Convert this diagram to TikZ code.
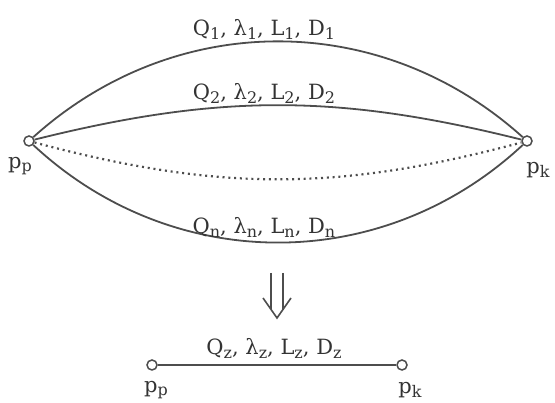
\documentclass[tikz,border=0pt]{standalone}
\usepackage{fontspec}
\setmainfont{DejaVu Serif}
\usetikzlibrary{positioning,arrows.meta}
\definecolor{linegray}{HTML}{4D4D4D}
\definecolor{textgray}{HTML}{333333}
\newcommand{\sbs}[1]{\raisebox{-0.35ex}{\fontsize{16}{18}\selectfont #1}}

\begin{document}
\begin{tikzpicture}[x=1pt,y=-1pt,
  font=\fontsize{21}{25}\selectfont,text=textgray,
  pnt/.style={circle,draw=linegray,line width=1.5pt,fill=white,minimum size=10pt,inner sep=0pt},
  pipe/.style={draw=linegray,line width=1.8pt},
  par/.style={midway,above,inner sep=1pt,xshift=-14pt}]
\useasboundingbox (0,0) rectangle (555,403);
% parallel pipes
\node[pnt] (pp) at (29,141) {};
\node[pnt] (pk) at (527,141) {};
\node (lpp) at (20,166) {p\sbs{p}};
\node (lpk) at (538,170) {p\sbs{k}};
\draw[pipe] (pp) to[bend left=42] node[par]{Q\sbs{1}, λ\sbs{1}, L\sbs{1}, D\sbs{1}} (pk);
\draw[pipe] (pp) to[bend left=14] node[par]{Q\sbs{2}, λ\sbs{2}, L\sbs{2}, D\sbs{2}} (pk);
\draw[pipe,line width=2.2pt,dash pattern=on 2pt off 3.8pt] (pp) to[bend right=15] (pk);
\draw[pipe] (pp) to[bend right=43] node[par,inner sep=0pt,yshift=4pt]{Q\sbs{n}, λ\sbs{n}, L\sbs{n}, D\sbs{n}} (pk);
% equivalent pipe
\coordinate (al) at (271,273);
\coordinate (ar) at (283,273);
\coordinate (bl) at (271,309);
\coordinate (br) at (283,309);
\coordinate (tip) at (277,318);
\draw[pipe,line width=1.6pt] (al) -- (bl) (ar) -- (br);
\draw[pipe,line width=1.6pt] (263,298) -- (tip) -- (291,298);
\node[pnt] (qp) at (152,365) {};
\node[pnt] (qk) at (402,365) {};
\node (lqp) at (156,390) {p\sbs{p}};
\node (lqk) at (410,390) {p\sbs{k}};
\draw[pipe] (qp) -- node[above,inner sep=6pt,xshift=-3pt]{Q\sbs{z}, λ\sbs{z}, L\sbs{z}, D\sbs{z}} (qk);
\end{tikzpicture}
\end{document}
